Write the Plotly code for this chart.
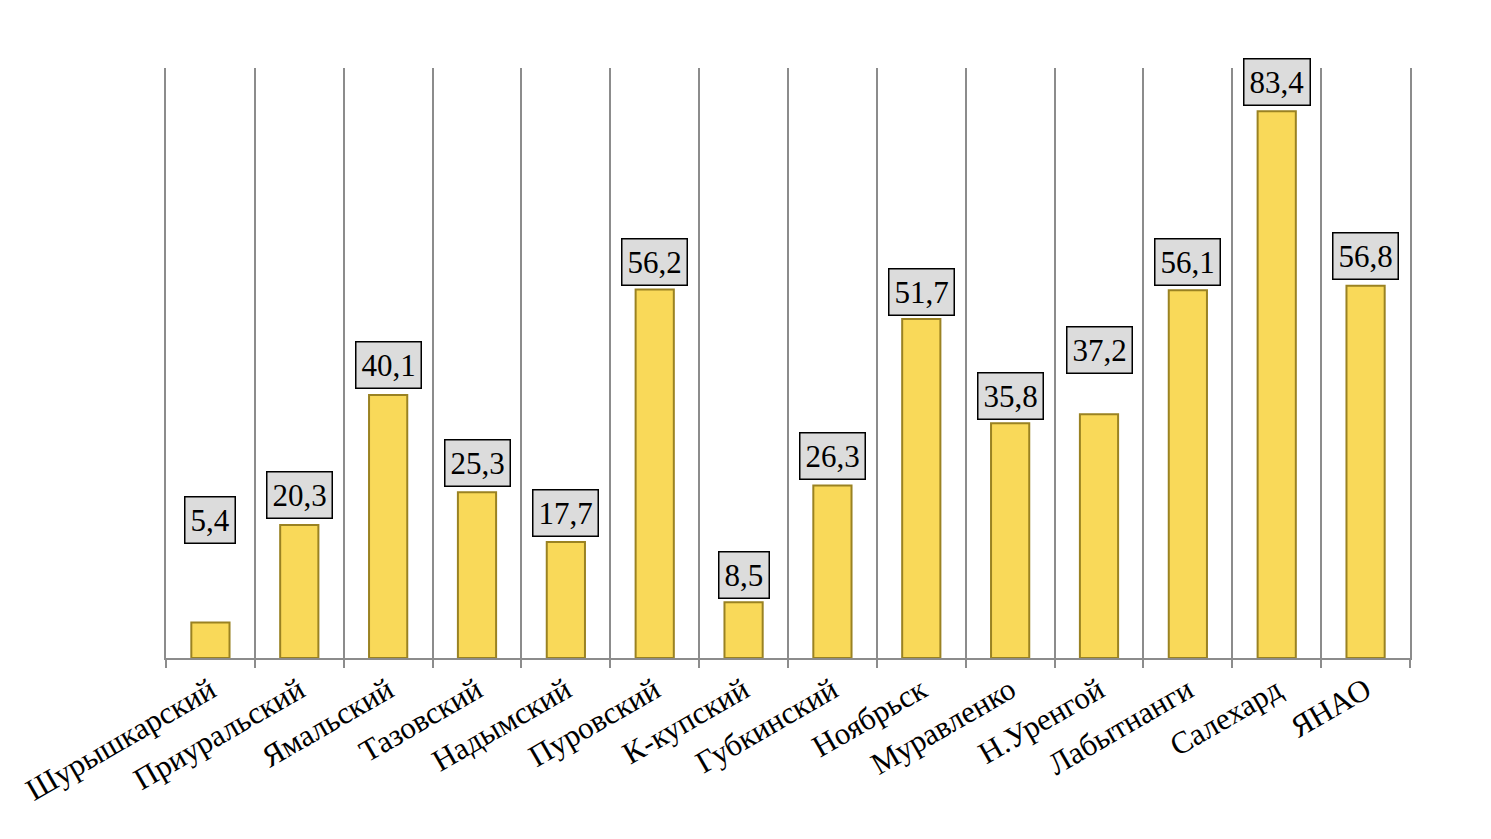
import plotly.graph_objects as go

categories = ["Шурышкарский", "Приуральский", "Ямальский", "Тазовский", "Надымский",
              "Пуровский", "К-купский", "Губкинский", "Ноябрьск", "Муравленко",
              "Н.Уренгой", "Лабытнанги", "Салехард", "ЯНАО"]
values = [5.4, 20.3, 40.1, 25.3, 17.7, 56.2, 8.5, 26.3, 51.7, 35.8, 37.2, 56.1, 83.4, 56.8]
value_labels = ["5,4", "20,3", "40,1", "25,3", "17,7", "56,2", "8,5", "26,3", "51,7", "35,8",
                "37,2", "56,1", "83,4", "56,8"]
label_offsets = [15.6, 4.5, 4.6, 4.4, 4.4, 4.2, 4.2, 4.5, 4.1, 4.1, 9.8, 4.3, 4.4, 4.5]

fig = go.Figure()
fig.add_trace(go.Bar(
    x=categories, y=values,
    marker=dict(color="#F9D959", line=dict(color="#9A8222", width=2)),
    width=0.43,
))

for c, v, t, o in zip(categories, values, value_labels, label_offsets):
    fig.add_annotation(
        x=c, y=v + o, text=t, showarrow=False,
        font=dict(family="Liberation Serif", size=31, color="black"),
        bgcolor="#DCDCDC", bordercolor="black", borderwidth=1.5, borderpad=5,
        xanchor="center", yanchor="middle",
    )

fig.update_layout(
    width=1491, height=839,
    margin=dict(l=155, r=89, t=60, b=189),
    plot_bgcolor="white", paper_bgcolor="white",
    showlegend=False,
    font=dict(family="Liberation Serif", color="black"),
)
fig.update_xaxes(
    tickson="boundaries", showgrid=True, gridcolor="#8C8C8C", gridwidth=1.5,
    ticks="outside", ticklen=8, tickcolor="#8C8C8C", tickwidth=1.5,
    showline=True, linecolor="#8C8C8C", linewidth=2,
    tickangle=-30, tickfont=dict(family="Liberation Serif", size=31, color="black"),
)
fig.update_yaxes(range=[0, 90], showgrid=False, showticklabels=False, zeroline=False,
                 showline=True, mirror=True, linecolor="#8C8C8C", linewidth=1.5, ticks="")

fig.write_html("out.html")
